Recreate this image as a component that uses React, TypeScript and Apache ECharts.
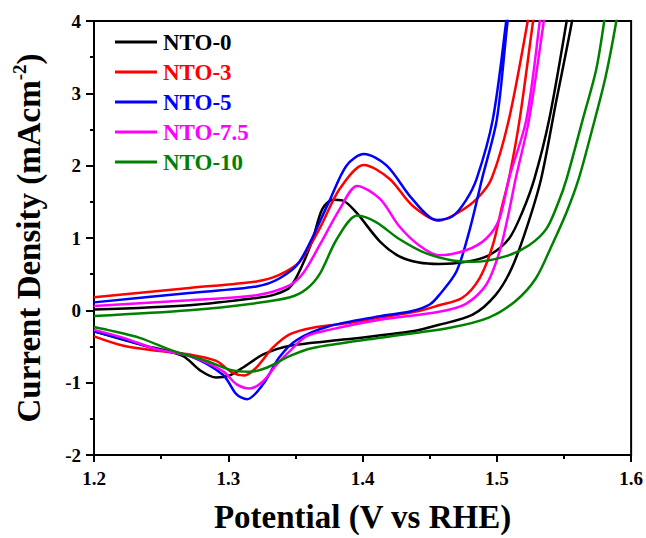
import React, { useEffect, useRef } from "react";
import * as echarts from "echarts";

const seriesNames = ["NTO-0", "NTO-3", "NTO-5", "NTO-7.5", "NTO-10"];
const seriesColors = ["#000000", "#ff0000", "#0000ff", "#ff00ff", "#008000"];

const xTicks = { min: 1.2, max: 1.6, interval: 0.1 };
const yTicks = { min: -2, max: 4, interval: 1 };

// [potential (V), current density (mA cm^-2)] : forward sweep then reverse sweep
const nto0: number[][] = [
  [1.2, 0.01], [1.271, 0.07], [1.321, 0.17], [1.335, 0.22], [1.346, 0.32], [1.355, 0.62], [1.363, 0.99], [1.37, 1.4],
  [1.378, 1.53], [1.385, 1.52], [1.395, 1.36], [1.413, 0.95], [1.427, 0.75], [1.442, 0.66], [1.457, 0.64],
  [1.477, 0.67], [1.494, 0.76], [1.509, 0.99], [1.519, 1.36], [1.528, 1.82], [1.539, 2.64], [1.552, 4.0], [1.555, 4.4],
  [1.559, 4.4], [1.556, 4.0], [1.544, 2.87], [1.533, 1.82], [1.522, 1.13], [1.511, 0.58], [1.499, 0.21],
  [1.482, -0.06], [1.457, -0.2], [1.437, -0.29], [1.388, -0.4], [1.346, -0.49], [1.326, -0.61], [1.311, -0.79],
  [1.301, -0.9], [1.291, -0.93], [1.279, -0.83], [1.266, -0.63], [1.234, -0.47], [1.2, -0.29],
];
const nto3: number[][] = [
  [1.2, 0.18], [1.271, 0.31], [1.321, 0.4], [1.338, 0.49], [1.353, 0.67], [1.368, 1.13], [1.383, 1.68],
  [1.401, 2.01], [1.42, 1.82], [1.437, 1.45], [1.457, 1.24], [1.472, 1.36], [1.485, 1.54], [1.496, 1.82],
  [1.509, 2.64], [1.523, 4.0], [1.526, 4.4],
  [1.53, 4.4], [1.527, 4.0], [1.517, 2.64], [1.509, 1.82], [1.504, 1.45], [1.497, 0.9], [1.487, 0.44],
  [1.474, 0.17], [1.457, 0.07], [1.442, -0.01], [1.413, -0.1], [1.388, -0.18], [1.363, -0.24], [1.346, -0.33],
  [1.333, -0.52], [1.321, -0.79], [1.312, -0.9], [1.303, -0.86], [1.291, -0.7], [1.271, -0.61], [1.247, -0.56],
  [1.222, -0.49], [1.2, -0.36],
];
const nto5: number[][] = [
  [1.2, 0.11], [1.271, 0.24], [1.321, 0.33], [1.338, 0.44], [1.353, 0.67], [1.375, 1.5], [1.388, 2.0],
  [1.401, 2.16], [1.418, 2.0], [1.437, 1.54], [1.455, 1.25], [1.467, 1.3], [1.477, 1.52], [1.485, 1.82],
  [1.497, 2.64], [1.507, 4.0], [1.509, 4.4],
  [1.511, 4.4], [1.508, 4.0], [1.5, 2.64], [1.489, 1.82], [1.48, 1.13], [1.47, 0.54], [1.457, 0.21],
  [1.45, 0.08], [1.437, -0.01], [1.413, -0.08], [1.375, -0.22], [1.351, -0.41], [1.338, -0.65], [1.326, -1.02],
  [1.314, -1.23], [1.306, -1.16], [1.296, -0.89], [1.271, -0.63], [1.247, -0.54], [1.222, -0.4], [1.2, -0.29],
];
const nto75: number[][] = [
  [1.2, 0.06], [1.271, 0.14], [1.321, 0.21], [1.346, 0.35], [1.356, 0.52], [1.368, 0.9], [1.383, 1.4],
  [1.396, 1.72], [1.413, 1.54], [1.427, 1.17], [1.442, 0.9], [1.457, 0.76], [1.477, 0.83], [1.492, 0.99],
  [1.502, 1.27], [1.509, 1.82], [1.522, 2.64], [1.532, 4.0], [1.534, 4.4],
  [1.538, 4.4], [1.535, 4.0], [1.524, 2.64], [1.514, 1.82], [1.509, 1.36], [1.502, 0.81], [1.492, 0.35],
  [1.477, 0.09], [1.457, -0.02], [1.413, -0.13], [1.375, -0.27], [1.358, -0.36], [1.346, -0.56],
  [1.336, -0.75], [1.326, -0.98], [1.316, -1.08], [1.306, -1.02], [1.296, -0.84], [1.271, -0.63],
  [1.247, -0.54], [1.222, -0.38], [1.2, -0.27],
];
const nto10: number[][] = [
  [1.2, -0.08], [1.271, 0.0], [1.321, 0.1], [1.346, 0.18], [1.358, 0.29], [1.368, 0.5], [1.381, 0.99],
  [1.396, 1.31], [1.41, 1.22], [1.427, 0.99], [1.447, 0.79], [1.467, 0.69], [1.482, 0.67], [1.507, 0.75],
  [1.524, 0.9], [1.537, 1.13], [1.546, 1.5], [1.552, 1.82], [1.564, 2.64], [1.574, 3.33], [1.58, 4.0], [1.583, 4.4],
  [1.592, 4.4], [1.589, 4.0], [1.581, 3.23], [1.571, 2.5], [1.561, 1.82], [1.552, 1.36], [1.541, 0.9],
  [1.529, 0.44], [1.514, 0.13], [1.494, -0.1], [1.465, -0.24], [1.413, -0.38], [1.363, -0.52], [1.346, -0.63],
  [1.329, -0.79], [1.316, -0.85], [1.301, -0.82], [1.284, -0.7], [1.259, -0.56], [1.234, -0.38], [1.21, -0.27],
  [1.2, -0.23],
];
const seriesData = [nto0, nto3, nto5, nto75, nto10];

const FONT = "'Liberation Serif', 'Times New Roman', serif";

export default function App() {
  const ref = useRef<HTMLDivElement>(null);
  useEffect(() => {
    if (!ref.current) return;
    const chart = echarts.init(ref.current, null, { renderer: "svg" });
    chart.setOption({
      animation: false,
      backgroundColor: "#ffffff",
      grid: {
        left: 94, right: 14, top: 21, bottom: 80,
        show: true, borderColor: "#000", borderWidth: 2, backgroundColor: "transparent",
      },
      legend: {
        orient: "vertical",
        left: 115,
        top: 30,
        padding: 0,
        itemGap: 6,
        itemWidth: 42,
        itemHeight: 3,
        icon: "rect",
        textStyle: { fontFamily: FONT, fontWeight: "bold", fontSize: 23, lineHeight: 24, padding: [0, 0, 0, 1] },
        data: seriesNames.map((n, i) => ({ name: n, textStyle: { color: seriesColors[i] } })),
      },
      xAxis: {
        type: "value",
        min: xTicks.min, max: xTicks.max, interval: xTicks.interval,
        name: "Potential (V vs RHE)",
        nameLocation: "middle",
        nameGap: 45,
        nameTextStyle: { fontFamily: FONT, fontWeight: "bold", fontSize: 33, color: "#000" },
        axisLine: { onZero: false, lineStyle: { color: "#000", width: 2 } },
        axisTick: { show: true, length: 7, lineStyle: { color: "#000", width: 2 } },
        minorTick: { show: true, splitNumber: 2, length: 4, lineStyle: { color: "#000", width: 2 } },
        splitLine: { show: false },
        axisLabel: {
          fontFamily: FONT, fontWeight: "bold", fontSize: 19, color: "#000", margin: 14,
          formatter: (v: number) => v.toFixed(1),
        },
      },
      yAxis: {
        type: "value",
        min: yTicks.min, max: yTicks.max, interval: yTicks.interval,
        name: "{a|Current Density (mAcm}{s|-2}{a|)}",
        nameLocation: "middle",
        nameGap: 46,
        nameTextStyle: {
          rich: {
            a: { fontFamily: FONT, fontWeight: "bold", fontSize: 33, color: "#000", lineHeight: 38 },
            s: { fontFamily: FONT, fontWeight: "bold", fontSize: 19, color: "#000", lineHeight: 20, verticalAlign: "top" },
          },
        },
        axisLine: { onZero: false, lineStyle: { color: "#000", width: 2 } },
        axisTick: { show: true, length: 8, lineStyle: { color: "#000", width: 2 } },
        minorTick: { show: true, splitNumber: 2, length: 4, lineStyle: { color: "#000", width: 2 } },
        splitLine: { show: false },
        axisLabel: { fontFamily: FONT, fontWeight: "bold", fontSize: 19, color: "#000", margin: 13 },
      },
      series: seriesNames.map((n, i) => ({
        name: n,
        type: "line",
        data: seriesData[i],
        showSymbol: false,
        smooth: 0.3,
        clip: true,
        lineStyle: { color: seriesColors[i], width: 2.5 },
        itemStyle: { color: seriesColors[i] },
      })),
    });
    return () => chart.dispose();
  }, []);
  return <div ref={ref} style={{ width: 646, height: 538, position: "absolute", left: 0, top: 0 }} />;
}
